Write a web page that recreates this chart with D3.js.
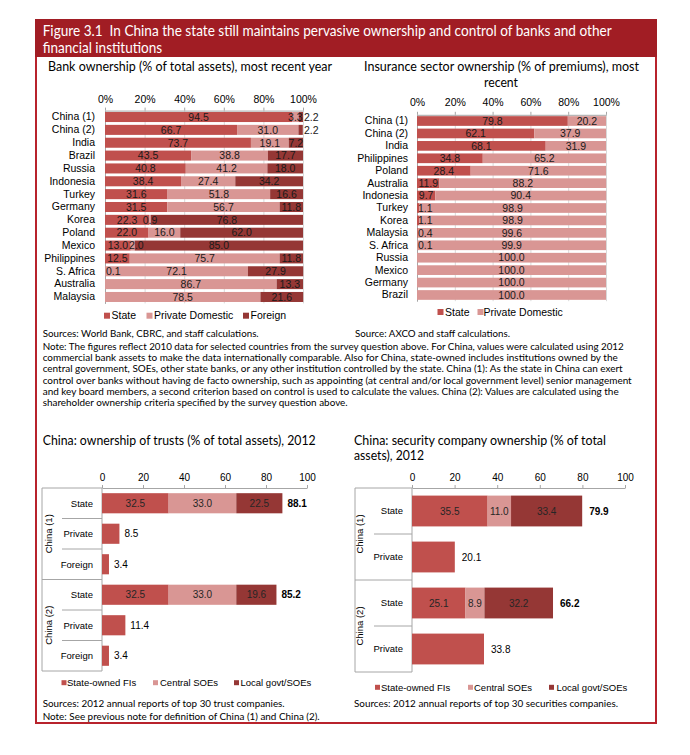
<!DOCTYPE html>
<html>
<head>
<meta charset="utf-8">
<script src="https://cdnjs.cloudflare.com/ajax/libs/d3/7.8.5/d3.min.js"></script>
<style>
  body { margin: 0; background: #fff; }
  svg text { font-family: "Liberation Sans", Arial, sans-serif; }
  svg text.cal { font-family: Lato, "Open Sans", sans-serif; white-space: pre; }
</style>
</head>
<body>
<svg width="690" height="755"></svg>
<script>
// ---- data ----
const bankCountries = ["China (1)", "China (2)", "India", "Brazil", "Russia", "Indonesia", "Turkey", "Germany",
  "Korea", "Poland", "Mexico", "Philippines", "S. Africa", "Australia", "Malaysia"];
const bankState   = [94.5, 66.7, 73.7, 43.5, 40.8, 38.4, 31.6, 31.5, 22.3, 22.0, 13.0, 12.5, 0.1, 0, 0];
const bankPrivate = [3.3, 31.0, 19.1, 38.8, 41.2, 27.4, 51.8, 56.7, 0.9, 16.0, 2.0, 75.7, 72.1, 86.7, 78.5];
const bankForeign = [2.2, 2.2, 7.2, 17.7, 18.0, 34.2, 16.6, 11.8, 76.8, 62.0, 85.0, 11.8, 27.9, 13.3, 21.6];

const insCountries = ["China (1)", "China (2)", "India", "Philippines", "Poland", "Australia", "Indonesia", "Turkey",
  "Korea", "Malaysia", "S. Africa", "Russia", "Mexico", "Germany", "Brazil"];
const insState   = [79.8, 62.1, 68.1, 34.8, 28.4, 11.9, 9.7, 1.1, 1.1, 0.4, 0.1, 0, 0, 0, 0];
const insPrivate = [20.2, 37.9, 31.9, 65.2, 71.6, 88.2, 90.4, 98.9, 98.9, 99.6, 99.9, 100.0, 100.0, 100.0, 100.0];

const pctTicks = [0, 20, 40, 60, 80, 100];

const trustRows    = ["State", "Private", "Foreign", "State", "Private", "Foreign"];
const trustGroups  = ["China (1)", "China (2)"];
const trustFIs     = [32.5, 8.5, 3.4, 32.5, 11.4, 3.4];
const trustCentral = [33.0, 0, 0, 33.0, 0, 0];
const trustLocal   = [22.5, 0, 0, 19.6, 0, 0];
const trustTotals  = [88.1, 8.5, 3.4, 85.2, 11.4, 3.4];

const secRows    = ["State", "Private", "State", "Private"];
const secGroups  = ["China (1)", "China (2)"];
const secFIs     = [35.5, 20.1, 25.1, 33.8];
const secCentral = [11.0, 0, 8.9, 0];
const secLocal   = [33.4, 0, 32.2, 0];
const secTotals  = [79.9, 20.1, 66.2, 33.8];

const numTicks = [0, 20, 40, 60, 80, 100];

const cRed = "#c0504d", cPink = "#d99694", cDark = "#953735";

const svg = d3.select("svg");
svg.append("rect").attr("width", 690).attr("height", 755).attr("fill", "#fff");

// ---- frame ----
svg.append("rect").attr("x", 35).attr("y", 19).attr("width", 622).attr("height", 38).attr("fill", "#a11d24");
const frame = svg.append("g").attr("stroke", "#b8232c").attr("stroke-width", 2);
frame.append("line").attr("x1", 36).attr("x2", 36).attr("y1", 57).attr("y2", 723);
frame.append("line").attr("x1", 656).attr("x2", 656).attr("y1", 57).attr("y2", 723);
frame.append("line").attr("x1", 35).attr("x2", 657).attr("y1", 723).attr("y2", 723);

function cal(x, y, s, size, len, anchor, fill) {
  const t = svg.append("text").attr("class", "cal").attr("x", x).attr("y", y)
    .attr("font-size", size + "px").attr("fill", fill || "#000")
    .attr("text-anchor", anchor || "start").text(s);
  if (len) t.attr("textLength", len).attr("lengthAdjust", "spacingAndGlyphs");
  return t;
}

cal(42.7, 35.5, "Figure 3.1  In China the state still maintains pervasive ownership and control of banks and other", 15, 569, "start", "#fff");
cal(42.7, 52.5, "financial institutions", 15, 119.5, "start", "#fff");

cal(48, 71, "Bank ownership (% of total assets), most recent year", 13, 284);
cal(501.5, 71, "Insurance sector ownership (% of premiums), most", 13, 275, "middle");
cal(501, 86.5, "recent", 13, 34, "middle");

cal(42.7, 336.5, "Sources: World Bank, CBRC, and staff calculations.", 10.3, 216);
cal(355, 336.5, "Source: AXCO and staff calculations.", 10.3, 155);

const noteLines = [
  ["Note: The figures reflect 2010 data for selected countries from the survey question above. For China, values were calculated using 2012", 581],
  ["commercial bank assets to make the data internationally comparable. Also for China, state-owned includes institutions owned by the", 575],
  ["central government, SOEs, other state banks, or any other institution controlled by the state. China (1): As the state in China can exert", 580],
  ["control over banks without having de facto ownership, such as appointing (at central and/or local government level) senior management", 589],
  ["and key board members, a second criterion based on control is used to calculate the values. China (2): Values are calculated using the", 576],
  ["shareholder ownership criteria specified by the survey question above.", 305]
];
noteLines.forEach((l, i) => cal(42.7, 349.5 + i * 11.35, l[0], 10.3, l[1]));

cal(42.7, 444.5, "China: ownership of trusts (% of total assets), 2012", 13, 273);
cal(354, 444.5, "China: security company ownership (% of total", 13, 252);
cal(354, 460, "assets), 2012", 13, 70);

cal(42.7, 706.5, "Sources: 2012 annual reports of top 30 trust companies.", 10.3, 242);
cal(42.7, 719.5, "Note: See previous note for definition of China (1) and China (2).", 10.3, 277);
cal(354, 706.5, "Sources: 2012 annual reports of top 30 securities companies.", 10.3, 264);

// ---- legend helper ----
function legend(items, y, size, sq) {
  items.forEach(it => {
    svg.append("rect").attr("x", it.mx).attr("y", y - sq / 2).attr("width", sq).attr("height", sq).attr("fill", it.color);
    svg.append("text").attr("x", it.tx).attr("y", y).attr("dy", "0.35em")
      .attr("font-size", size + "px").attr("fill", "#000").text(it.label);
  });
}

// ---- 100% stacked charts ----
function pctChart(o) {
  const g = svg.append("g");
  const x = d3.scaleLinear().domain([0, 100]).range([o.x0, o.x1]);
  const y = d3.scaleBand().domain(o.cats).range([o.y0, o.y1]).paddingInner(0.22).paddingOuter(0.11);

  g.append("g").attr("transform", `translate(0,${o.y0})`)
    .call(d3.axisBottom(x).tickValues(pctTicks).tickSize(o.y1 - o.y0).tickFormat(""))
    .call(a => a.select(".domain").remove())
    .call(a => a.selectAll("line").attr("stroke", "#d9d9d9"));

  g.append("g").attr("transform", `translate(0,${o.y0})`)
    .call(d3.axisTop(x).tickValues(pctTicks).tickSizeInner(3).tickSizeOuter(0).tickPadding(o.tickPad).tickFormat(d => d + "%"))
    .call(a => a.select(".domain").attr("stroke", "#a6a6a6"))
    .call(a => a.selectAll("line").attr("stroke", "#a6a6a6"))
    .call(a => a.selectAll("text").attr("font-size", "10.5px").attr("fill", "#000").attr("font-family", null));

  g.append("g").attr("transform", `translate(${o.x0},0)`)
    .call(d3.axisLeft(y).tickSize(0).tickPadding(o.x0 - o.labelX))
    .call(a => a.select(".domain").attr("stroke", "#a6a6a6"))
    .call(a => a.selectAll("text").attr("font-size", "10.5px").attr("fill", "#000").attr("font-family", null));

  const rows = o.cats.map((c, i) => {
    const r = { cat: c };
    o.keys.forEach((k, j) => r[k] = o.series[j][i]);
    return r;
  });
  const stack = d3.stack().keys(o.keys)(rows);

  g.selectAll("g.seg").data(stack).join("g").attr("class", "seg").attr("fill", (d, i) => o.colors[i])
    .selectAll("rect").data(d => d).join("rect")
    .attr("x", d => x(d[0])).attr("width", d => x(d[1]) - x(d[0]))
    .attr("y", d => y(d.data.cat)).attr("height", y.bandwidth());

  // segment labels, row by row so neighbours can be nudged apart
  o.cats.forEach((cat, ri) => {
    let prevEnd = -Infinity;
    stack.forEach((s, si) => {
      const d = s[ri];
      const v = d[1] - d[0];
      if (v <= 0) return;
      const t = g.append("text").attr("y", y(cat) + y.bandwidth() / 2).attr("dy", "0.36em")
        .attr("font-size", "10.5px").attr("fill", "#1a1a1a").text(v.toFixed(1));
      const w = t.node().getComputedTextLength();
      let start = (x(d[0]) + x(d[1])) / 2 - w / 2;
      if (si === 0 && v < 2) start = x(d[0]) + 1;
      if (si === stack.length - 1 && si > 1 && v < 3) start = x(100) + 1;
      if (start < prevEnd + 1) start = prevEnd + 1;
      t.attr("x", start);
      prevEnd = start + w;
    });
  });
}

pctChart({
  cats: bankCountries, keys: ["State", "Private Domestic", "Foreign"],
  series: [bankState, bankPrivate, bankForeign], colors: [cRed, cPink, cDark],
  x0: 105, x1: 303, y0: 110.6, y1: 303.4, labelX: 95, tickPad: 4.6
});
legend([
  { mx: 104, tx: 111.5, color: cRed, label: "State" },
  { mx: 146.5, tx: 154, color: cPink, label: "Private Domestic" },
  { mx: 243, tx: 250.5, color: cDark, label: "Foreign" }
], 315.7, 10.5, 6);

pctChart({
  cats: insCountries, keys: ["State", "Private Domestic"],
  series: [insState, insPrivate], colors: [cRed, cPink],
  x0: 417, x1: 606, y0: 114.8, y1: 301.2, labelX: 408, tickPad: 5.8
});
legend([
  { mx: 437.5, tx: 445, color: cRed, label: "State" },
  { mx: 477.5, tx: 483.5, color: cPink, label: "Private Domestic" }
], 312, 10.5, 6);

// ---- China ownership charts ----
function ownChart(o) {
  const g = svg.append("g");
  const x = d3.scaleLinear().domain([0, 100]).range([o.x0, o.x1]);
  const idx = d3.range(o.rows.length);
  const y = d3.scaleBand().domain(idx).range([o.y0, o.y1]).paddingInner(o.pad).paddingOuter(o.pad / 2);
  const step = y.step();
  const grey = "#a6a6a6";

  g.append("g").attr("transform", `translate(0,${o.y0})`)
    .call(d3.axisTop(x).tickValues(numTicks).tickSizeInner(3).tickSizeOuter(0).tickPadding(4.5))
    .call(a => a.select(".domain").attr("stroke", grey))
    .call(a => a.selectAll("line").attr("stroke", grey))
    .call(a => a.selectAll("text").attr("font-size", "10px").attr("fill", "#000").attr("font-family", null));

  // category table lines
  const lines = g.append("g").attr("stroke", grey).attr("stroke-width", 1);
  lines.append("line").attr("x1", o.boxX).attr("x2", o.boxX).attr("y1", o.y0).attr("y2", o.y1);
  lines.append("line").attr("x1", o.x0).attr("x2", o.x0).attr("y1", o.y0).attr("y2", o.y1);
  const perGroup = o.rows.length / o.groups.length;
  d3.range(o.rows.length + 1).forEach(i => {
    const yy = o.y0 + i * step;
    const outer = i % perGroup === 0;
    lines.append("line").attr("x1", outer ? o.boxX : o.subX).attr("x2", o.x0).attr("y1", yy).attr("y2", yy);
  });

  idx.forEach(i => {
    g.append("text").attr("x", o.labelX).attr("y", y(i) + y.bandwidth() / 2).attr("dy", "0.35em")
      .attr("text-anchor", "end").attr("font-size", "9.5px").attr("fill", "#000").text(o.rows[i]);
  });
  o.groups.forEach((gr, gi) => {
    const cy = o.y0 + (gi + 0.5) * perGroup * step;
    g.append("text").attr("transform", `translate(${o.groupX},${cy}) rotate(-90)`).attr("dy", "0.35em")
      .attr("text-anchor", "middle").attr("font-size", "9.5px").attr("fill", "#000").text(gr);
  });

  const rows = idx.map(i => {
    const r = { i: i };
    o.keys.forEach((k, j) => r[k] = o.series[j][i]);
    return r;
  });
  const stack = d3.stack().keys(o.keys)(rows);

  g.selectAll("g.seg").data(stack).join("g").attr("class", "seg").attr("fill", (d, i) => o.colors[i])
    .selectAll("rect").data(d => d.filter(p => p[1] > p[0])).join("rect")
    .attr("x", d => x(d[0])).attr("width", d => x(d[1]) - x(d[0]))
    .attr("y", d => y(d.data.i)).attr("height", y.bandwidth());

  idx.forEach(i => {
    const cy = y(i) + y.bandwidth() / 2;
    const parts = stack.map(s => s[i]).filter(p => p[1] > p[0]);
    const end = x(parts[parts.length - 1][1]);
    if (parts.length > 1) {
      parts.forEach(p => {
        g.append("text").attr("x", (x(p[0]) + x(p[1])) / 2).attr("y", cy).attr("dy", "0.36em")
          .attr("text-anchor", "middle").attr("font-size", "10px").attr("fill", "#262626")
          .text((p[1] - p[0]).toFixed(1));
      });
    }
    g.append("text").attr("x", end + o.offset).attr("y", cy).attr("dy", "0.36em")
      .attr("font-size", "10px").attr("fill", "#000")
      .attr("font-weight", parts.length > 1 ? "bold" : "normal")
      .text(o.totals[i].toFixed(1));
  });
}

ownChart({
  rows: trustRows, groups: trustGroups, keys: ["State-owned FIs", "Central SOEs", "Local govt/SOEs"],
  series: [trustFIs, trustCentral, trustLocal], totals: trustTotals, colors: [cRed, cPink, cDark],
  x0: 102, x1: 307, y0: 488, y1: 671, pad: 0.34, boxX: 42, subX: 62, labelX: 93, groupX: 48.5, offset: 5
});
legend([
  { mx: 61.5, tx: 67, color: cRed, label: "State-owned FIs" },
  { mx: 153, tx: 160, color: cPink, label: "Central SOEs" },
  { mx: 234, tx: 240.5, color: cDark, label: "Local govt/SOEs" }
], 682.7, 9.5, 5);

ownChart({
  rows: secRows, groups: secGroups, keys: ["State-owned FIs", "Central SOEs", "Local govt/SOEs"],
  series: [secFIs, secCentral, secLocal], totals: secTotals, colors: [cRed, cPink, cDark],
  x0: 412, x1: 625, y0: 488, y1: 672, pad: 0.33, boxX: 355, subX: 374, labelX: 403, groupX: 360, offset: 7
});
legend([
  { mx: 375, tx: 381, color: cRed, label: "State-owned FIs" },
  { mx: 468, tx: 474, color: cPink, label: "Central SOEs" },
  { mx: 549, tx: 556.5, color: cDark, label: "Local govt/SOEs" }
], 687.3, 9.5, 5);
</script>
</body>
</html>
